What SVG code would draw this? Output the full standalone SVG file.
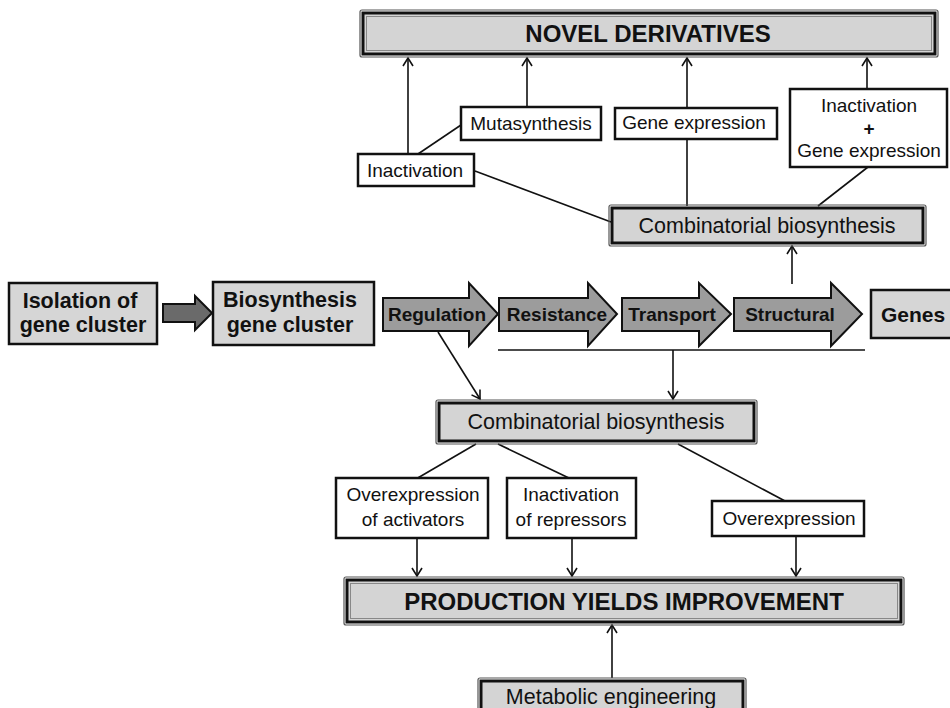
<svg xmlns="http://www.w3.org/2000/svg" width="950" height="708" viewBox="0 0 950 708">
<style>
.t{font-family:"Liberation Sans",Arial,sans-serif;fill:#111;text-anchor:middle}
.n{font-size:19px}
.m{font-size:21.5px}
.b{font-weight:bold}
.wb{fill:#fff;stroke:#111;stroke-width:2.5}
.gb{fill:#d6d6d6;stroke:#111;stroke-width:2.5}
.o1{fill:none;stroke:#555;stroke-width:1.2}
.o2{fill:#d4d4d4;stroke:#111;stroke-width:3}
.o3{fill:none;stroke:#888;stroke-width:1}
.ga{fill:#9c9c9c;stroke:#111;stroke-width:2}
.c{fill:none;stroke:#111;stroke-width:1.6}
</style>
<defs>
<marker id="ah" markerWidth="12" markerHeight="12" refX="9" refY="6" orient="auto" markerUnits="userSpaceOnUse">
<path d="M1,1 L9,6 L1,11" fill="none" stroke="#111" stroke-width="1.6"/>
</marker>
</defs>
<rect width="950" height="708" fill="#fff"/>

<g id="connectors">
<line class="c" x1="408" y1="154" x2="408" y2="58" marker-end="url(#ah)"/>
<line class="c" x1="527" y1="107" x2="527" y2="58" marker-end="url(#ah)"/>
<line class="c" x1="687" y1="108" x2="687" y2="58" marker-end="url(#ah)"/>
<line class="c" x1="867" y1="89" x2="867" y2="58" marker-end="url(#ah)"/>
<line class="c" x1="418" y1="154" x2="461" y2="125"/>
<line class="c" x1="475" y1="171" x2="611" y2="222"/>
<line class="c" x1="687" y1="139" x2="687" y2="206"/>
<line class="c" x1="868" y1="167" x2="818" y2="206"/>
<line class="c" x1="792" y1="284" x2="792" y2="246" marker-end="url(#ah)"/>
<line class="c" x1="498" y1="350" x2="865" y2="350"/>
<line class="c" x1="673" y1="350" x2="673" y2="399" marker-end="url(#ah)"/>
<line class="c" x1="438" y1="332" x2="480" y2="399" marker-end="url(#ah)"/>
<line class="c" x1="476" y1="444" x2="416" y2="479"/>
<line class="c" x1="498" y1="444" x2="571" y2="479"/>
<line class="c" x1="678" y1="444" x2="785" y2="501"/>
<line class="c" x1="417" y1="538" x2="417" y2="576" marker-end="url(#ah)"/>
<line class="c" x1="572" y1="538" x2="572" y2="576" marker-end="url(#ah)"/>
<line class="c" x1="796" y1="536" x2="796" y2="576" marker-end="url(#ah)"/>
<line class="c" x1="612" y1="678" x2="612" y2="625" marker-end="url(#ah)"/>
</g>

<g id="novel">
<rect class="o1" x="360" y="10" width="578" height="47" rx="2"/>
<rect class="o2" x="363" y="13" width="572" height="41"/>
<rect class="o3" x="366.5" y="16.5" width="565" height="34"/>
<text class="t b" x="648" y="42" font-size="24">NOVEL DERIVATIVES</text>
</g>

<g id="mutasynthesis">
<rect class="wb" x="461" y="107" width="140" height="33"/>
<text class="t n" x="531" y="130">Mutasynthesis</text>
</g>
<g id="geneexp">
<rect class="wb" x="615" y="108" width="162" height="31"/>
<text class="t n" x="694" y="129">Gene expression</text>
</g>
<g id="inactgene">
<rect class="wb" x="790" y="89" width="157" height="78"/>
<text class="t n" x="869" y="112">Inactivation</text>
<text class="t n b" x="869" y="135">+</text>
<text class="t n" x="869" y="157">Gene expression</text>
</g>
<g id="inactivation">
<rect class="wb" x="358" y="154" width="116" height="32"/>
<text class="t n" x="415" y="177">Inactivation</text>
</g>

<g id="combi1">
<rect class="o1" x="609" y="205" width="317" height="41" rx="2"/>
<rect class="o2" x="612" y="208" width="311" height="35"/>
<text class="t m" x="767" y="233">Combinatorial biosynthesis</text>
</g>

<g id="isolation">
<rect class="gb" x="9" y="283" width="148" height="61"/>
<text class="t b" x="80" y="308" font-size="21.5">Isolation of</text>
<text class="t b" x="83" y="332" font-size="21.5">gene cluster</text>
</g>
<g id="blockarrow">
<polygon fill="#6a6a6a" stroke="#111" stroke-width="2" points="163,304 195,304 195,296 212,313 195,330 195,322 163,322"/>
</g>
<g id="biocluster">
<rect class="gb" x="213" y="282" width="161" height="63"/>
<text class="t b" x="290" y="307" font-size="21.5">Biosynthesis</text>
<text class="t b" x="290" y="332" font-size="21.5">gene cluster</text>
</g>

<g id="regulation">
<polygon class="ga" points="383,298 469,298 469,283 498,314 469,346 469,331 383,331"/>
<text class="t b" x="437" y="321" font-size="19">Regulation</text>
</g>
<g id="resistance">
<polygon class="ga" points="499,298 588,298 588,283 617,314 588,346 588,331 499,331"/>
<text class="t b" x="557" y="321" font-size="19">Resistance</text>
</g>
<g id="transport">
<polygon class="ga" points="622,298 699,298 699,283 731,314 699,346 699,331 622,331"/>
<text class="t b" x="672" y="321" font-size="19">Transport</text>
</g>
<g id="structural">
<polygon class="ga" points="734,298 831,298 831,283 862,314 831,346 831,331 734,331"/>
<text class="t b" x="790" y="321" font-size="19">Structural</text>
</g>
<g id="genes">
<rect class="gb" x="871" y="290" width="82" height="48"/>
<text class="t b" x="913" y="322" font-size="21">Genes</text>
</g>

<g id="combi2">
<rect class="o1" x="436" y="400" width="321" height="44" rx="2"/>
<rect class="o2" x="439" y="403" width="315" height="38"/>
<text class="t m" x="596" y="429">Combinatorial biosynthesis</text>
</g>

<g id="overact">
<rect class="wb" x="336" y="478" width="152" height="60"/>
<text class="t n" x="413" y="501">Overexpression</text>
<text class="t n" x="413" y="526">of activators</text>
</g>
<g id="inactrep">
<rect class="wb" x="507" y="478" width="129" height="60"/>
<text class="t n" x="571" y="501">Inactivation</text>
<text class="t n" x="571" y="526">of repressors</text>
</g>
<g id="overexp">
<rect class="wb" x="712" y="501" width="152" height="35"/>
<text class="t n" x="789" y="525">Overexpression</text>
</g>

<g id="production">
<rect class="o1" x="344" y="577" width="560" height="48" rx="2"/>
<rect class="o2" x="347" y="580" width="554" height="42"/>
<rect class="o3" x="350.5" y="583.5" width="547" height="35"/>
<text class="t b" x="624" y="610" font-size="24">PRODUCTION YIELDS IMPROVEMENT</text>
</g>

<g id="metabolic">
<rect class="o1" x="478" y="678" width="268" height="40" rx="2"/>
<rect class="o2" x="481" y="681" width="262" height="36"/>
<text class="t m" x="611" y="704">Metabolic engineering</text>
</g>
</svg>
